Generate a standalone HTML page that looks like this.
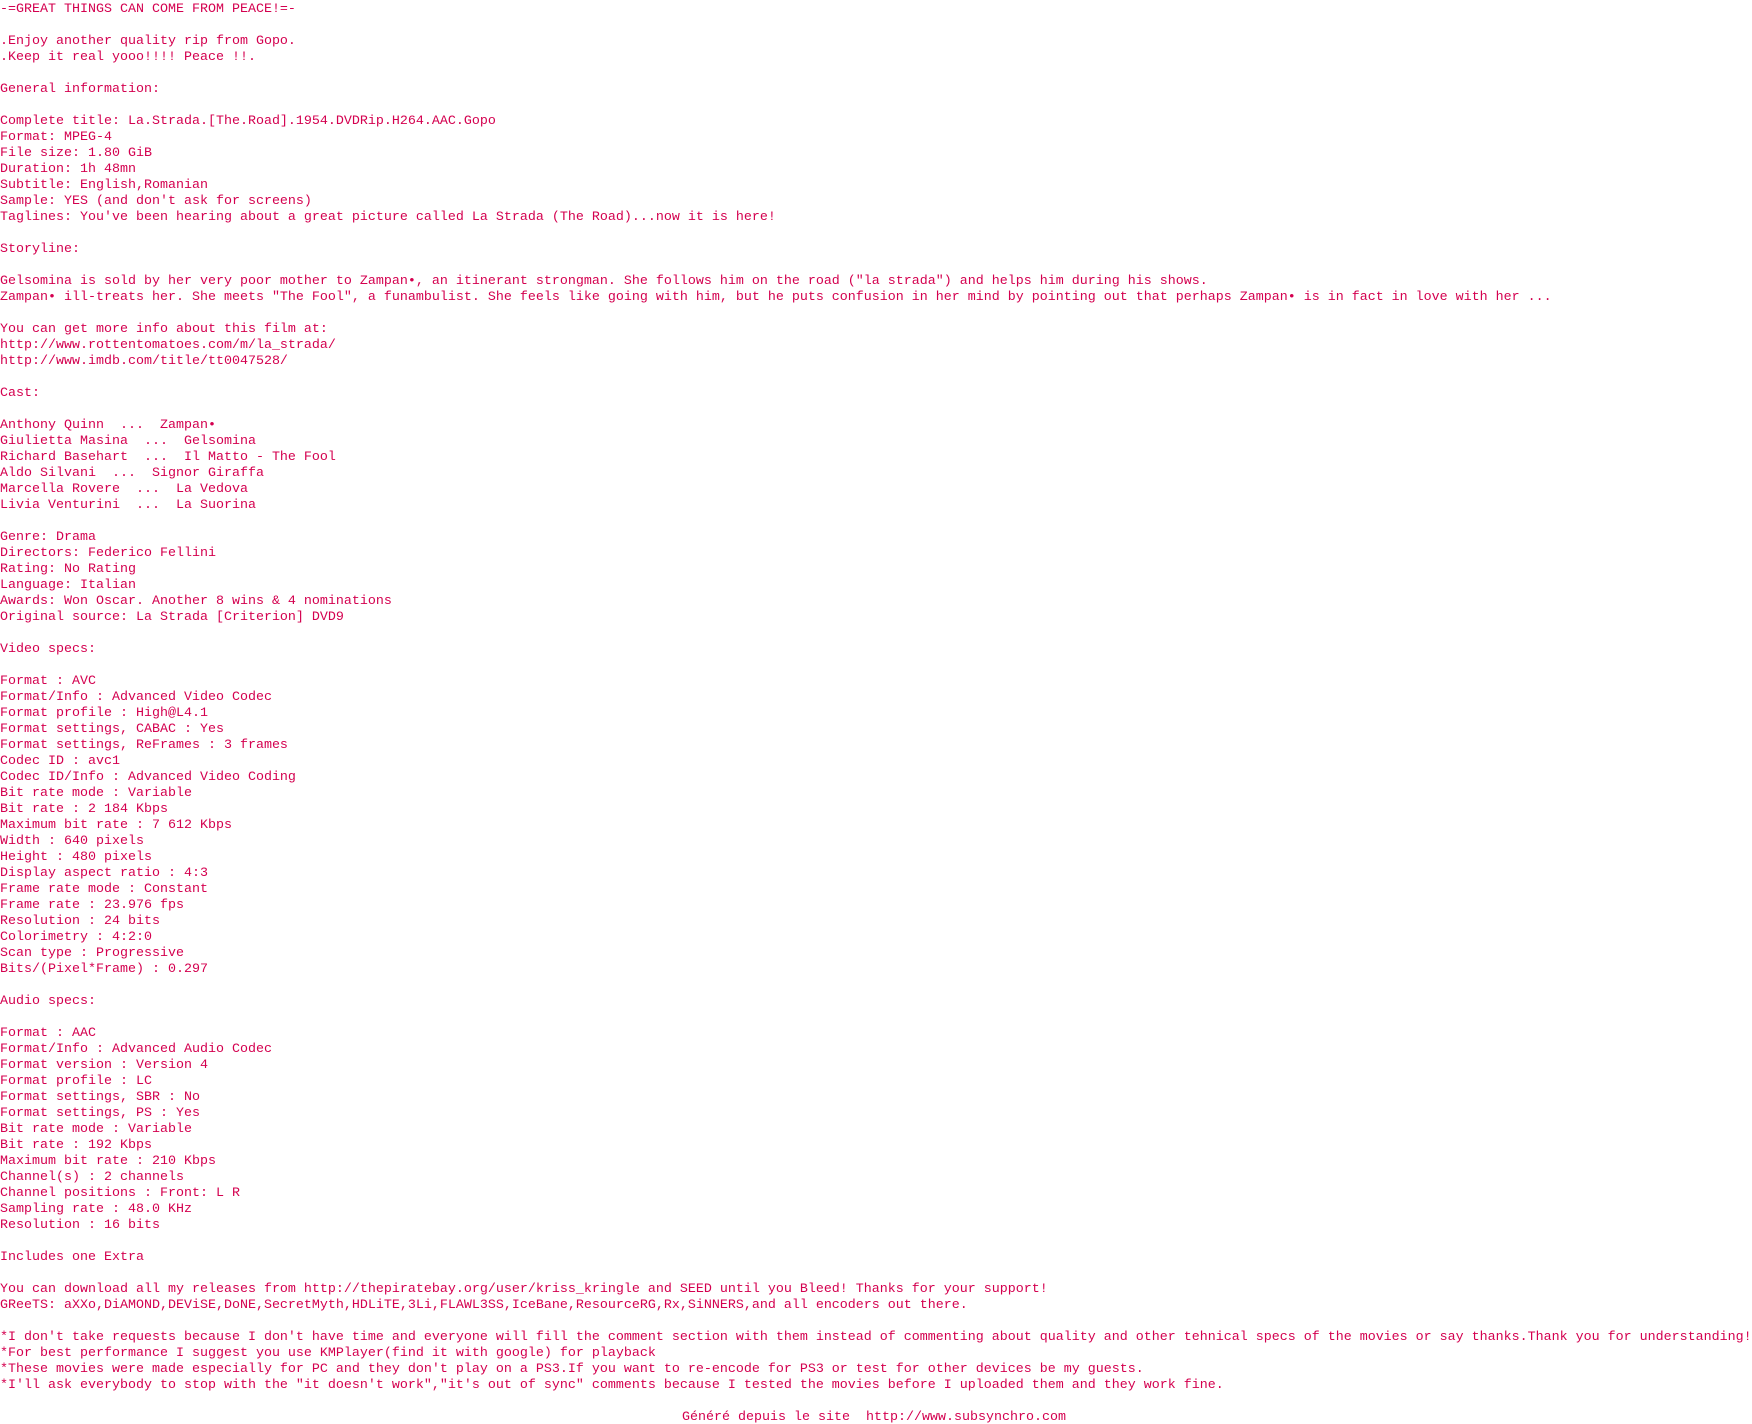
<!DOCTYPE html>
<html><head><meta charset="utf-8"><style>
html,body{margin:0;padding:0;background:#fff;width:1752px;height:1424px;overflow:hidden}
body{padding-top:2px;box-sizing:border-box}
pre{margin:0;font-family:"Liberation Mono",monospace;font-size:13.33px;line-height:16px;color:#d4004f;white-space:pre}
.c{text-align:center;margin-left:-4px}
</style></head><body><pre>-=GREAT THINGS CAN COME FROM PEACE!=-

.Enjoy another quality rip from Gopo.
.Keep it real yooo!!!! Peace !!.

General information:

Complete title: La.Strada.[The.Road].1954.DVDRip.H264.AAC.Gopo
Format: MPEG-4
File size: 1.80 GiB
Duration: 1h 48mn
Subtitle: English,Romanian
Sample: YES (and don't ask for screens)
Taglines: You've been hearing about a great picture called La Strada (The Road)...now it is here!

Storyline:

Gelsomina is sold by her very poor mother to Zampan•, an itinerant strongman. She follows him on the road ("la strada") and helps him during his shows.
Zampan• ill-treats her. She meets "The Fool", a funambulist. She feels like going with him, but he puts confusion in her mind by pointing out that perhaps Zampan• is in fact in love with her ...

You can get more info about this film at:
http://www.rottentomatoes.com/m/la_strada/
http://www.imdb.com/title/tt0047528/

Cast:

Anthony Quinn  ...  Zampan•
Giulietta Masina  ...  Gelsomina
Richard Basehart  ...  Il Matto - The Fool
Aldo Silvani  ...  Signor Giraffa
Marcella Rovere  ...  La Vedova
Livia Venturini  ...  La Suorina

Genre: Drama
Directors: Federico Fellini
Rating: No Rating
Language: Italian
Awards: Won Oscar. Another 8 wins &amp; 4 nominations
Original source: La Strada [Criterion] DVD9

Video specs:

Format : AVC
Format/Info : Advanced Video Codec
Format profile : High@L4.1
Format settings, CABAC : Yes
Format settings, ReFrames : 3 frames
Codec ID : avc1
Codec ID/Info : Advanced Video Coding
Bit rate mode : Variable
Bit rate : 2 184 Kbps
Maximum bit rate : 7 612 Kbps
Width : 640 pixels
Height : 480 pixels
Display aspect ratio : 4:3
Frame rate mode : Constant
Frame rate : 23.976 fps
Resolution : 24 bits
Colorimetry : 4:2:0
Scan type : Progressive
Bits/(Pixel*Frame) : 0.297

Audio specs:

Format : AAC
Format/Info : Advanced Audio Codec
Format version : Version 4
Format profile : LC
Format settings, SBR : No
Format settings, PS : Yes
Bit rate mode : Variable
Bit rate : 192 Kbps
Maximum bit rate : 210 Kbps
Channel(s) : 2 channels
Channel positions : Front: L R
Sampling rate : 48.0 KHz
Resolution : 16 bits

Includes one Extra

You can download all my releases from http://thepiratebay.org/user/kriss_kringle and SEED until you Bleed! Thanks for your support!
GReeTS: aXXo,DiAMOND,DEViSE,DoNE,SecretMyth,HDLiTE,3Li,FLAWL3SS,IceBane,ResourceRG,Rx,SiNNERS,and all encoders out there.

*I don't take requests because I don't have time and everyone will fill the comment section with them instead of commenting about quality and other tehnical specs of the movies or say thanks.Thank you for understanding!
*For best performance I suggest you use KMPlayer(find it with google) for playback
*These movies were made especially for PC and they don't play on a PS3.If you want to re-encode for PS3 or test for other devices be my guests.
*I'll ask everybody to stop with the "it doesn't work","it's out of sync" comments because I tested the movies before I uploaded them and they work fine.

</pre><pre class="c">Généré depuis le site  http://www.subsynchro.com</pre></body></html>
